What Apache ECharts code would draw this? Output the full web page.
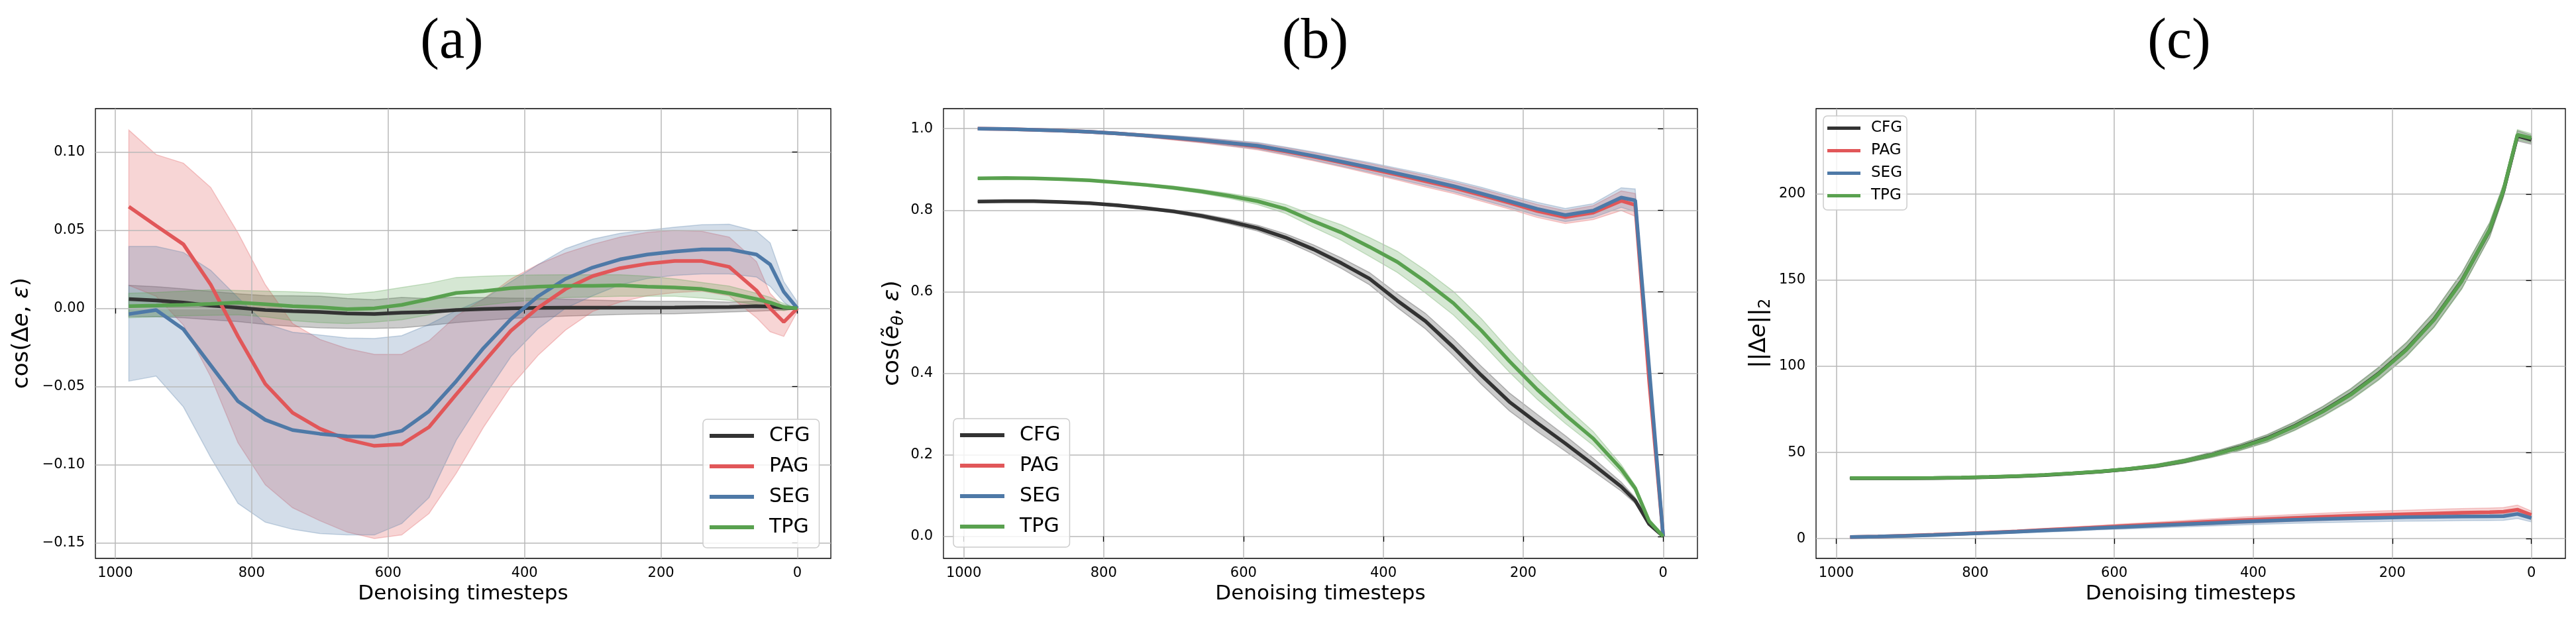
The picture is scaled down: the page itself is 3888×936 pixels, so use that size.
<!DOCTYPE html>
<html>
<head>
<meta charset="utf-8">
<script src="https://cdn.jsdelivr.net/npm/echarts@6.0.0/dist/echarts.min.js"></script>
<style>html,body{margin:0;padding:0;background:#fff;}#c{width:3888px;height:936px;}</style>
</head>
<body>
<div id="c"></div>
<script>
// ---------- data ----------
const T = [980, 940, 900, 860, 820, 780, 740, 700, 660, 620, 580, 540, 500, 460, 420, 380, 340, 300, 260, 220, 180, 140, 100, 60, 40, 20, 0];
const xTicks = [0, 200, 400, 600, 800, 1000];
const yTicksA = [-0.15, -0.10, -0.05, 0.00, 0.05, 0.10];
const yTicksB = [0.0, 0.2, 0.4, 0.6, 0.8, 1.0];
const yTicksC = [0, 50, 100, 150, 200];
const names = ['CFG', 'PAG', 'SEG', 'TPG'];
const panelTitles = ['(a)', '(b)', '(c)'];

// panel (a): cos(Δe, ε)
const aCFG   = [0.0059, 0.0050, 0.0037, 0.0017, 0.0004, -0.0011, -0.0018, -0.0024, -0.0033, -0.0037, -0.0028, -0.0024, -0.0011, -0.0005, 0.0000, 0.0003, 0.0004, 0.0004, 0.0004, 0.0004, 0.0005, 0.0007, 0.0008, 0.0013, 0.0011, 0.0004, 0.0];
const aCFGlo = [-0.0052, -0.0055, -0.0061, -0.0074, -0.0085, -0.0103, -0.0116, -0.0125, -0.0129, -0.0129, -0.0125, -0.0110, -0.0092, -0.0078, -0.0065, -0.0058, -0.0050, -0.0045, -0.0040, -0.0037, -0.0035, -0.0030, -0.0024, -0.0018, -0.0015, -0.0012, 0.0];
const aCFGhi = [0.0147, 0.0138, 0.0125, 0.0108, 0.0093, 0.0081, 0.0080, 0.0077, 0.0063, 0.0055, 0.0069, 0.0062, 0.0070, 0.0068, 0.0065, 0.0064, 0.0058, 0.0053, 0.0048, 0.0045, 0.0045, 0.0044, 0.0040, 0.0044, 0.0037, 0.0020, 0.0];
const aPAG   = [0.0650, 0.0528, 0.0409, 0.0151, -0.0180, -0.0484, -0.0668, -0.0770, -0.0840, -0.0880, -0.0870, -0.0760, -0.0550, -0.0346, -0.0144, 0.0004, 0.0123, 0.0206, 0.0256, 0.0285, 0.0302, 0.0302, 0.0265, 0.0114, 0.0000, -0.0088, 0.0];
const aPAGhi = [0.1140, 0.0983, 0.0928, 0.0773, 0.0482, 0.0151, -0.0098, -0.0199, -0.0258, -0.0295, -0.0295, -0.0208, -0.0050, 0.0060, 0.0188, 0.0280, 0.0353, 0.0409, 0.0455, 0.0486, 0.0497, 0.0492, 0.0455, 0.0298, 0.0096, 0.0004, 0.0010];
const aPAGlo = [0.0147, 0.0077, -0.0107, -0.0438, -0.0860, -0.1129, -0.1276, -0.1359, -0.1432, -0.1473, -0.1450, -0.1313, -0.1055, -0.0760, -0.0500, -0.0300, -0.0140, -0.0020, 0.0040, 0.0080, 0.0100, 0.0110, 0.0080, -0.0060, -0.0150, -0.0180, -0.0020];
const aSEG   = [-0.0037, -0.0011, -0.0134, -0.0365, -0.0595, -0.0714, -0.0779, -0.0803, -0.0819, -0.0821, -0.0784, -0.0659, -0.0466, -0.0254, -0.0070, 0.0077, 0.0188, 0.0261, 0.0313, 0.0344, 0.0363, 0.0377, 0.0377, 0.0344, 0.0280, 0.0105, 0.0];
const aSEGhi = [0.0396, 0.0396, 0.0357, 0.0243, 0.0068, -0.0098, -0.0153, -0.0171, -0.0190, -0.0193, -0.0175, -0.0103, -0.0015, 0.0059, 0.0170, 0.0280, 0.0381, 0.0442, 0.0479, 0.0500, 0.0519, 0.0534, 0.0538, 0.0492, 0.0418, 0.0170, 0.0040];
const aSEGlo = [-0.0466, -0.0434, -0.0631, -0.0954, -0.1248, -0.1368, -0.1414, -0.1441, -0.1450, -0.1450, -0.1377, -0.1211, -0.0843, -0.0570, -0.0310, -0.0130, 0.0000, 0.0080, 0.0150, 0.0190, 0.0210, 0.0220, 0.0220, 0.0200, 0.0140, 0.0040, -0.0030];
const aTPG   = [0.0013, 0.0017, 0.0022, 0.0028, 0.0037, 0.0026, 0.0013, 0.0007, -0.0006, 0.0000, 0.0022, 0.0059, 0.0098, 0.0110, 0.0129, 0.0138, 0.0144, 0.0144, 0.0147, 0.0138, 0.0133, 0.0123, 0.0096, 0.0059, 0.0037, 0.0007, 0.0];
const aTPGhi = [0.0096, 0.0101, 0.0110, 0.0118, 0.0114, 0.0110, 0.0105, 0.0099, 0.0090, 0.0105, 0.0133, 0.0160, 0.0197, 0.0205, 0.0210, 0.0213, 0.0215, 0.0215, 0.0215, 0.0205, 0.0188, 0.0165, 0.0142, 0.0096, 0.0070, 0.0030, 0.0];
const aTPGlo = [-0.0061, -0.0055, -0.0048, -0.0045, -0.0042, -0.0055, -0.0079, -0.0092, -0.0098, -0.0088, -0.0074, -0.0042, -0.0006, 0.0020, 0.0040, 0.0055, 0.0068, 0.0073, 0.0077, 0.0077, 0.0077, 0.0065, 0.0050, 0.0022, 0.0005, -0.0015, 0.0];

// panel (b): cos(ẽθ, ε)
const bCFG   = [0.821, 0.822, 0.822, 0.820, 0.817, 0.812, 0.805, 0.797, 0.786, 0.772, 0.756, 0.733, 0.704, 0.670, 0.632, 0.578, 0.528, 0.464, 0.395, 0.330, 0.278, 0.228, 0.176, 0.122, 0.088, 0.030, 0.0];
const bCFGhi = [0.822, 0.823, 0.823, 0.822, 0.819, 0.815, 0.808, 0.801, 0.791, 0.778, 0.763, 0.742, 0.715, 0.683, 0.647, 0.595, 0.547, 0.485, 0.417, 0.352, 0.299, 0.247, 0.192, 0.133, 0.095, 0.033, 0.0];
const bCFGlo = [0.820, 0.821, 0.821, 0.818, 0.815, 0.809, 0.802, 0.793, 0.781, 0.766, 0.749, 0.724, 0.693, 0.657, 0.617, 0.561, 0.509, 0.443, 0.373, 0.308, 0.257, 0.209, 0.160, 0.111, 0.081, 0.027, 0.0];
const bPAG   = [1.000, 0.999, 0.997, 0.995, 0.992, 0.988, 0.983, 0.977, 0.971, 0.964, 0.956, 0.944, 0.931, 0.917, 0.902, 0.887, 0.871, 0.855, 0.837, 0.818, 0.798, 0.783, 0.794, 0.823, 0.813, 0.380, 0.0];
const bPAGhi = [1.001, 1.000, 0.999, 0.997, 0.995, 0.991, 0.987, 0.982, 0.977, 0.971, 0.964, 0.953, 0.941, 0.928, 0.914, 0.900, 0.885, 0.869, 0.852, 0.833, 0.814, 0.799, 0.811, 0.847, 0.841, 0.390, 0.0];
const bPAGlo = [0.999, 0.998, 0.995, 0.993, 0.989, 0.985, 0.979, 0.972, 0.965, 0.957, 0.948, 0.935, 0.921, 0.906, 0.890, 0.874, 0.857, 0.841, 0.822, 0.803, 0.782, 0.767, 0.777, 0.799, 0.785, 0.370, 0.0];
const bSEG   = [1.000, 0.999, 0.997, 0.995, 0.992, 0.988, 0.983, 0.978, 0.972, 0.965, 0.958, 0.946, 0.933, 0.919, 0.905, 0.890, 0.875, 0.859, 0.841, 0.822, 0.803, 0.788, 0.799, 0.831, 0.824, 0.412, 0.0];
const bSEGhi = [1.001, 1.000, 0.999, 0.997, 0.995, 0.991, 0.987, 0.983, 0.978, 0.972, 0.966, 0.955, 0.943, 0.930, 0.917, 0.903, 0.889, 0.873, 0.856, 0.837, 0.819, 0.804, 0.816, 0.855, 0.852, 0.422, 0.0];
const bSEGlo = [0.999, 0.998, 0.995, 0.993, 0.989, 0.985, 0.979, 0.973, 0.966, 0.958, 0.950, 0.937, 0.923, 0.908, 0.893, 0.877, 0.861, 0.845, 0.826, 0.807, 0.787, 0.772, 0.782, 0.807, 0.796, 0.402, 0.0];
const bTPG   = [0.878, 0.879, 0.878, 0.876, 0.873, 0.868, 0.862, 0.855, 0.846, 0.835, 0.822, 0.803, 0.773, 0.745, 0.710, 0.673, 0.625, 0.572, 0.505, 0.430, 0.360, 0.298, 0.240, 0.165, 0.118, 0.037, 0.0];
const bTPGhi = [0.879, 0.880, 0.879, 0.877, 0.875, 0.870, 0.865, 0.859, 0.851, 0.841, 0.830, 0.814, 0.788, 0.764, 0.733, 0.699, 0.653, 0.601, 0.534, 0.457, 0.384, 0.319, 0.257, 0.176, 0.125, 0.040, 0.0];
const bTPGlo = [0.877, 0.878, 0.877, 0.875, 0.871, 0.866, 0.859, 0.851, 0.841, 0.829, 0.814, 0.792, 0.758, 0.726, 0.687, 0.647, 0.597, 0.543, 0.476, 0.403, 0.336, 0.277, 0.223, 0.154, 0.111, 0.034, 0.0];

// panel (c): ||Δe||2
const cCFG   = [35.0, 35.0, 35.0, 35.1, 35.3, 35.7, 36.2, 36.9, 37.8, 38.9, 40.3, 42.1, 44.9, 48.6, 53.0, 58.3, 65.5, 74.0, 83.8, 95.8, 109.8, 127.3, 149.8, 179.0, 202.0, 233.8, 231.5];
const cCFGhi = [35.3, 35.3, 35.3, 35.4, 35.6, 36.1, 36.6, 37.4, 38.4, 39.6, 41.1, 43.1, 46.1, 50.1, 54.8, 60.4, 67.9, 76.8, 87.0, 99.4, 113.8, 131.7, 154.4, 183.2, 205.6, 236.8, 234.1];
const cCFGlo = [34.7, 34.7, 34.7, 34.8, 35.0, 35.3, 35.8, 36.4, 37.2, 38.2, 39.5, 41.1, 43.7, 47.1, 51.2, 56.2, 63.1, 71.2, 80.6, 92.2, 105.8, 122.9, 145.2, 174.8, 198.4, 230.8, 228.9];
const cPAG   = [0.9, 1.2, 1.7, 2.2, 2.8, 3.5, 4.2, 5.0, 5.8, 6.6, 7.4, 8.2, 9.0, 9.8, 10.6, 11.3, 12.0, 12.6, 13.2, 13.7, 14.2, 14.6, 15.0, 15.3, 15.6, 16.8, 13.8];
const cPAGhi = [1.0, 1.4, 2.0, 2.6, 3.3, 4.1, 4.9, 5.9, 6.8, 7.7, 8.7, 9.6, 10.5, 11.5, 12.4, 13.2, 14.0, 14.7, 15.4, 16.0, 16.5, 17.0, 17.4, 17.7, 18.0, 19.4, 16.0];
const cPAGlo = [0.8, 1.0, 1.4, 1.8, 2.3, 2.9, 3.5, 4.1, 4.8, 5.5, 6.1, 6.8, 7.5, 8.1, 8.8, 9.4, 10.0, 10.5, 11.0, 11.4, 11.9, 12.2, 12.6, 12.9, 13.2, 14.2, 11.6];
const cSEG   = [0.9, 1.2, 1.6, 2.1, 2.7, 3.3, 4.0, 4.7, 5.4, 6.2, 6.9, 7.6, 8.3, 9.0, 9.7, 10.3, 10.9, 11.4, 11.8, 12.1, 12.4, 12.6, 12.8, 12.9, 13.0, 14.3, 11.9];
const cSEGhi = [1.0, 1.4, 1.9, 2.5, 3.2, 3.9, 4.7, 5.6, 6.4, 7.3, 8.2, 9.0, 9.8, 10.7, 11.5, 12.2, 12.9, 13.5, 14.0, 14.4, 14.7, 15.0, 15.2, 15.3, 15.4, 16.9, 14.1];
const cSEGlo = [0.8, 1.0, 1.3, 1.7, 2.2, 2.7, 3.3, 3.8, 4.4, 5.1, 5.6, 6.2, 6.8, 7.3, 7.9, 8.4, 8.9, 9.3, 9.6, 9.8, 10.1, 10.2, 10.4, 10.5, 10.6, 11.7, 9.7];
const cTPG   = [35.1, 35.1, 35.1, 35.2, 35.4, 35.8, 36.3, 37.0, 37.9, 39.0, 40.4, 42.2, 45.0, 48.5, 52.8, 58.0, 65.2, 73.7, 83.5, 95.5, 109.5, 127.0, 149.5, 179.3, 202.3, 234.4, 232.5];
const cTPGhi = [35.4, 35.4, 35.4, 35.5, 35.7, 36.2, 36.7, 37.5, 38.5, 39.7, 41.2, 43.2, 46.2, 50.0, 54.6, 60.1, 67.6, 76.5, 86.7, 99.1, 113.5, 131.4, 154.1, 183.5, 205.9, 237.4, 235.1];
const cTPGlo = [34.8, 34.8, 34.8, 34.9, 35.1, 35.4, 35.9, 36.5, 37.3, 38.3, 39.6, 41.2, 43.8, 47.0, 51.0, 55.9, 62.8, 70.9, 80.3, 91.9, 105.5, 122.6, 144.9, 175.1, 198.7, 231.4, 229.9];

// y-axis titles (rich-text markup: i = italic, s = italic subscript, u = upright subscript)
const yTitles = [
  '{n|cos(Δ}{i|e}{n|, }{i|ε}{n|)}',
  '{n|cos(}{i|ẽ}{s|θ}{n|, }{i|ε}{n|)}',
  '{n|||Δ}{i|e}{n|||}{u|2}'
];

// ---------- styling ----------
const COLORS = {CFG: '#333333', PAG: '#E15759', SEG: '#4E79A7', TPG: '#59A14F'};
const FONT = 'DejaVu Sans';
function rgba(hex, a) {
  const n = parseInt(hex.slice(1), 16);
  return 'rgba(' + ((n >> 16) & 255) + ',' + ((n >> 8) & 255) + ',' + (n & 255) + ',' + a + ')';
}
function bandSeries(idx, lo, hi, color) {
  return {
    type: 'custom', xAxisIndex: idx, yAxisIndex: idx, z: -1, silent: true, animation: false,
    data: T.map((x, i) => [x, lo[i], hi[i]]),
    encode: {x: 0, y: [1, 2]},
    renderItem: function (params, api) {
      if (params.dataIndex !== 0) return null;
      const pts = [];
      for (let i = 0; i < T.length; i++) pts.push(api.coord([T[i], hi[i]]));
      for (let i = T.length - 1; i >= 0; i--) pts.push(api.coord([T[i], lo[i]]));
      return {type: 'polygon', shape: {points: pts},
        style: {fill: rgba(color, 0.25), stroke: rgba(color, 0.3), lineWidth: 1.5}};
    }
  };
}
function lineSeries(idx, name, vals) {
  const color = COLORS[name];
  return {
    type: 'line', name: name, xAxisIndex: idx, yAxisIndex: idx, z: 3,
    data: T.map((x, i) => [x, vals[i]]),
    showSymbol: false, symbol: 'none', animation: false, clip: true,
    lineStyle: {width: 5.5, color: color}, itemStyle: {color: color}
  };
}

const grids = [
  {left: 144, top: 164, width: 1110, height: 679},
  {left: 1424, top: 164, width: 1138, height: 679},
  {left: 2741, top: 164, width: 1131, height: 679}
].map(g => Object.assign(g, {show: true, borderColor: '#000', borderWidth: 1.3, backgroundColor: 'transparent'}));

const tickStyle = {show: true, length: 8, lineStyle: {color: '#000', width: 1.3}};
const labelStyle = {fontFamily: FONT, fontSize: 21, color: '#000'};
const splitStyle = {show: true, lineStyle: {color: '#b8b8b8', width: 1.5}};

const xAxes = [0, 1, 2].map(i => ({
  type: 'value', gridIndex: i, min: -49, max: 1029, inverse: true,
  axisLine: {show: false},
  axisTick: Object.assign({customValues: xTicks}, tickStyle),
  axisLabel: Object.assign({customValues: xTicks, margin: 12, formatter: v => String(Math.round(v))}, labelStyle),
  splitLine: splitStyle,
  name: 'Denoising timesteps', nameLocation: 'middle', nameGap: 38,
  nameTextStyle: {fontFamily: FONT, fontSize: 31, color: '#000'}
}));

function yAxis(i, min, max, ticks, fmt) {
  return {
    type: 'value', gridIndex: i, min: min, max: max,
    axisLine: {show: false},
    axisTick: Object.assign({customValues: ticks}, tickStyle),
    axisLabel: Object.assign({customValues: ticks, margin: 16, formatter: fmt}, labelStyle),
    splitLine: splitStyle
  };
}
const fmtA = v => (v < -1e-9 ? '\u2212' : '') + Math.abs(v).toFixed(2);
const fmtB = v => Math.abs(v).toFixed(1);
const fmtC = v => String(Math.round(v));

const yAxes = [
  yAxis(0, -0.160, 0.1277, yTicksA, fmtA),
  yAxis(1, -0.054, 1.049, yTicksB, fmtB),
  yAxis(2, -11.5, 249.6, yTicksC, fmtC)
];

const series = [];
const panels = [
  {CFG: [aCFG, aCFGlo, aCFGhi], PAG: [aPAG, aPAGlo, aPAGhi], SEG: [aSEG, aSEGlo, aSEGhi], TPG: [aTPG, aTPGlo, aTPGhi]},
  {CFG: [bCFG, bCFGlo, bCFGhi], PAG: [bPAG, bPAGlo, bPAGhi], SEG: [bSEG, bSEGlo, bSEGhi], TPG: [bTPG, bTPGlo, bTPGhi]},
  {CFG: [cCFG, cCFGlo, cCFGhi], PAG: [cPAG, cPAGlo, cPAGhi], SEG: [cSEG, cSEGlo, cSEGhi], TPG: [cTPG, cTPGlo, cTPGhi]}
];
panels.forEach((p, idx) => {
  names.forEach(nm => series.push(bandSeries(idx, p[nm][1], p[nm][2], COLORS[nm])));
  names.forEach(nm => series.push(lineSeries(idx, nm, p[nm][0])));
});

function legend(left, top, fs, iw, ih, gap, pad, textPad) {
  return {
    left: left, top: top, orient: 'vertical', icon: 'rect', data: names, selectedMode: false,
    itemWidth: iw, itemHeight: ih, itemGap: gap, padding: pad,
    backgroundColor: 'rgba(255,255,255,0.8)', borderColor: '#cccccc', borderWidth: 1.5, borderRadius: 6,
    textStyle: {fontFamily: FONT, fontSize: fs, lineHeight: fs, color: '#000', padding: [0, 0, 0, textPad]}
  };
}

const titleX = [682, 1985, 3289];
const graphics = panelTitles.map((t, i) => ({
  type: 'text', x: titleX[i], y: 64, silent: true,
  style: {text: t, fontFamily: 'Liberation Serif', fontSize: 86, fontWeight: 'normal',
    fill: '#000', align: 'center', verticalAlign: 'middle'}
}));
const YF = 34, YS = 24;
const richY = {
  n: {fontFamily: FONT, fontSize: YF, fill: '#000', lineHeight: 44, verticalAlign: 'middle'},
  i: {fontFamily: FONT, fontSize: YF, fontStyle: 'italic', fill: '#000', lineHeight: 44, verticalAlign: 'middle'},
  s: {fontFamily: FONT, fontSize: YS, fontStyle: 'italic', fill: '#000', lineHeight: 25, verticalAlign: 'bottom'},
  u: {fontFamily: FONT, fontSize: YS, fill: '#000', lineHeight: 25, verticalAlign: 'bottom'}
};
const yTitleX = [33, 1347, 2655];
yTitles.forEach((t, i) => graphics.push({
  type: 'text', x: yTitleX[i], y: 503, rotation: Math.PI / 2, silent: true,
  style: {text: t, fontFamily: FONT, fontSize: YF, fill: '#000', align: 'center', verticalAlign: 'middle', rich: richY}
}));

const chart = echarts.init(document.getElementById('c'), null, {renderer: 'canvas'});
chart.setOption({
  animation: false,
  backgroundColor: '#fff',
  grid: grids,
  xAxis: xAxes,
  yAxis: yAxes,
  legend: [
    legend(1061, 633, 30, 67, 6, 16, [10, 14, 16, 10], 18),
    legend(1439, 632, 30, 67, 6, 16, [10, 14, 16, 10], 18),
    legend(2752, 175, 23, 50, 5, 11, [7, 7, 10, 6], 11)
  ],
  graphic: graphics,
  series: series
});
</script>
</body>
</html>
